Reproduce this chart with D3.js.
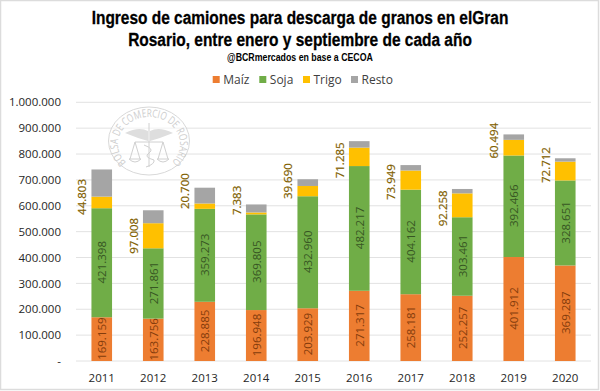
<!DOCTYPE html>
<html>
<head>
<meta charset="utf-8">
<script src="https://cdn.jsdelivr.net/npm/d3@7"></script>
<style>
html, body { margin: 0; padding: 0; background: #fff; }
svg { display: block; }
text { font-family: "Open Sans", sans-serif; }
</style>
</head>
<body>
<div id="chart"></div>
<script>
const years = ["2011", "2012", "2013", "2014", "2015", "2016", "2017", "2018", "2019", "2020"];
const maiz = [169159, 163756, 228885, 196948, 203929, 271317, 258181, 252257, 401912, 369287];
const soja = [421398, 271861, 359273, 369805, 432960, 482217, 404162, 303461, 392466, 328651];
const trigo = [44803, 97008, 20700, 7383, 39690, 71285, 73949, 92258, 60494, 72712];
const resto = [105000, 50000, 61000, 31000, 26000, 25000, 21000, 17000, 21000, 13000];
const seriesNames = ["Maíz", "Soja", "Trigo", "Resto"];
const seriesColors = ["#ed7d31", "#70ad47", "#ffc000", "#a5a5a5"];
const yTicks = [0, 100000, 200000, 300000, 400000, 500000, 600000, 700000, 800000, 900000, 1000000];

const width = 600, height = 391;
const fmt = v => v === 0 ? "-" : d3.format(",")(v).replace(/,/g, ".");

const svg = d3.select("#chart").append("svg")
    .attr("width", width)
    .attr("height", height);

// outer frame
svg.append("rect")
    .attr("x", 0.5).attr("y", 0.5)
    .attr("width", 598).attr("height", 389)
    .attr("fill", "#fff")
    .attr("stroke", "#dcdcdc")
    .attr("stroke-width", 1.5);

const x = d3.scaleBand().domain(years).range([76, 591]).paddingInner(0.6).paddingOuter(0.3);
const y = d3.scaleLinear().domain([0, 1000000]).range([361, 102.3]);

// gridlines
svg.append("g").selectAll("line")
    .data(yTicks)
    .enter()
    .append("line")
    .attr("x1", 76).attr("x2", 591)
    .attr("y1", d => y(d)).attr("y2", d => y(d))
    .attr("stroke", "#e2e2e2")
    .attr("stroke-width", 1);

// watermark, the circle is stretched sideways in the original
const logo = svg.append("g").attr("transform", "translate(149,141)");
logo.append("ellipse").attr("rx", 40.5).attr("ry", 34).attr("fill", "#fff").attr("fill-opacity", 0.5).attr("stroke", "#d4d4d4").attr("stroke-width", 0.9);
logo.append("path").attr("id", "logoArc")
    .attr("d", "M -22 22 A 31 27 0 1 1 22 22")
    .attr("fill", "none");
logo.append("text")
    .attr("font-size", 11)
    .attr("fill", "#cdcdcd")
    .append("textPath")
    .attr("href", "#logoArc")
    .attr("startOffset", "50%")
    .attr("text-anchor", "middle")
    .attr("textLength", 132)
    .attr("lengthAdjust", "spacingAndGlyphs")
    .text("BOLSA DE COMERCIO DE ROSARIO");
// wings, staff and scales of the crest
logo.append("path")
    .attr("d", "M -24 -8 Q -10 -15 -1 -10 L -1 0 Q -12 -3 -24 -8 Z M 24 -8 Q 10 -15 1 -10 L 1 0 Q 12 -3 24 -8 Z")
    .attr("fill", "#dedede");
logo.append("path")
    .attr("d", "M 0 -18 L 0 26 M -14 1 L 14 1 M -14 1 L -19 18 M -14 1 L -9 18 M 14 1 L 9 18 M 14 1 L 19 18 M -20 18 Q -14 24 -8 18 Z M 8 18 Q 14 24 20 18 Z M -5 4 Q 6 8 0 12 Q -6 16 5 19 Q 6 23 -3 26")
    .attr("fill", "none")
    .attr("stroke", "#d0d0d0")
    .attr("stroke-width", 1);

// stacked bars
const rows = years.map((yr, i) => ({ year: yr, "Maíz": maiz[i], "Soja": soja[i], "Trigo": trigo[i], "Resto": resto[i] }));
const stacked = d3.stack().keys(seriesNames)(rows);

svg.append("g").selectAll("g")
    .data(stacked)
    .enter()
    .append("g")
    .attr("fill", (d, i) => seriesColors[i])
    .selectAll("rect")
    .data(d => d)
    .enter()
    .append("rect")
    .attr("x", d => x(d.data.year))
    .attr("width", x.bandwidth())
    .attr("y", d => y(d[1]))
    .attr("height", d => y(d[0]) - y(d[1]));

// labels inside the bars
function barLabel(layer, color) {
    svg.append("g").selectAll("text")
        .data(stacked[layer])
        .enter()
        .append("text")
        .attr("transform", d => `translate(${x(d.data.year) + x.bandwidth() / 2 + 4.5},${y((d[0] + d[1]) / 2) - 0.5}) rotate(-90)`)
        .attr("text-anchor", "middle")
        .attr("font-size", 11.5)
        .attr("fill", color)
        .text(d => fmt(d[1] - d[0]));
}
barLabel(0, "#843c0c");
barLabel(1, "#375623");

// trigo labels sit left of the bars, moved by hand in the original
const trigoNudge = [-5.5, 0, -15, -13, -10, 3.5, 2, 3, -7, -6];
svg.append("g").selectAll("text")
    .data(stacked[2])
    .enter()
    .append("text")
    .attr("transform", (d, i) => `translate(${x(d.data.year) - 5},${y((d[0] + d[1]) / 2) + trigoNudge[i]}) rotate(-90)`)
    .attr("text-anchor", "middle")
    .attr("font-size", 11.5)
    .attr("fill", "#7f6000")
    .attr("stroke", "#7f6000")
    .attr("stroke-width", 0.2)
    .text(d => fmt(d[1] - d[0]));

// axes
const yAxis = d3.axisLeft(y).tickValues(yTicks).tickFormat(fmt).tickSize(0).tickPadding(15);
const gy = svg.append("g").attr("transform", "translate(76,0)").call(yAxis);
gy.select(".domain").remove();
gy.selectAll("text").attr("font-size", 11.5).attr("fill", "#262626").style("font-family", '"Open Sans", sans-serif');

const xAxis = d3.axisBottom(x).tickSize(0).tickPadding(13);
const gx = svg.append("g").attr("transform", "translate(0,361)").call(xAxis);
gx.select(".domain").remove();
gx.selectAll("text").attr("font-size", 11.5).attr("fill", "#262626").style("font-family", '"Open Sans", sans-serif');

// no condensed face installed, so squeeze the text to the width it has in the original
function squeeze(sel, cy, target) {
    const w = sel.node().getComputedTextLength();
    sel.attr("transform", `translate(300,${cy}) scale(${target / w},1)`);
}

const titleLines = ["Ingreso de camiones para descarga de granos en elGran", "Rosario, entre enero y septiembre de cada año"];
const titleWidths = [417, 344];
titleLines.forEach((line, i) => {
    const t = svg.append("text")
        .attr("text-anchor", "middle")
        .attr("font-size", 19)
        .attr("font-weight", "bold")
        .attr("fill", "#000")
        .attr("stroke", "#000")
        .attr("stroke-width", 0.3)
        .style("font-family", '"Liberation Sans", sans-serif')
        .text(line);
    squeeze(t, 24 + i * 22.3, titleWidths[i]);
});

const subtitle = svg.append("text")
    .attr("text-anchor", "middle")
    .attr("font-size", 10.5)
    .attr("font-weight", "bold")
    .attr("fill", "#000")
    .style("font-family", '"Liberation Sans", sans-serif')
    .text("@BCRmercados en base a CECOA");
squeeze(subtitle, 61, 146);

// legend
const legendX = [212.7, 259.3, 303, 351];
const legend = svg.append("g").selectAll("g")
    .data(seriesNames)
    .enter()
    .append("g")
    .attr("transform", (d, i) => `translate(${legendX[i]},76)`);
legend.append("rect").attr("width", 7).attr("height", 7).attr("fill", (d, i) => seriesColors[i]);
legend.append("text")
    .attr("x", 10.5).attr("y", 8)
    .attr("font-size", 12)
    .attr("fill", "#404040")
    .text(d => d);
</script>
</body>
</html>
